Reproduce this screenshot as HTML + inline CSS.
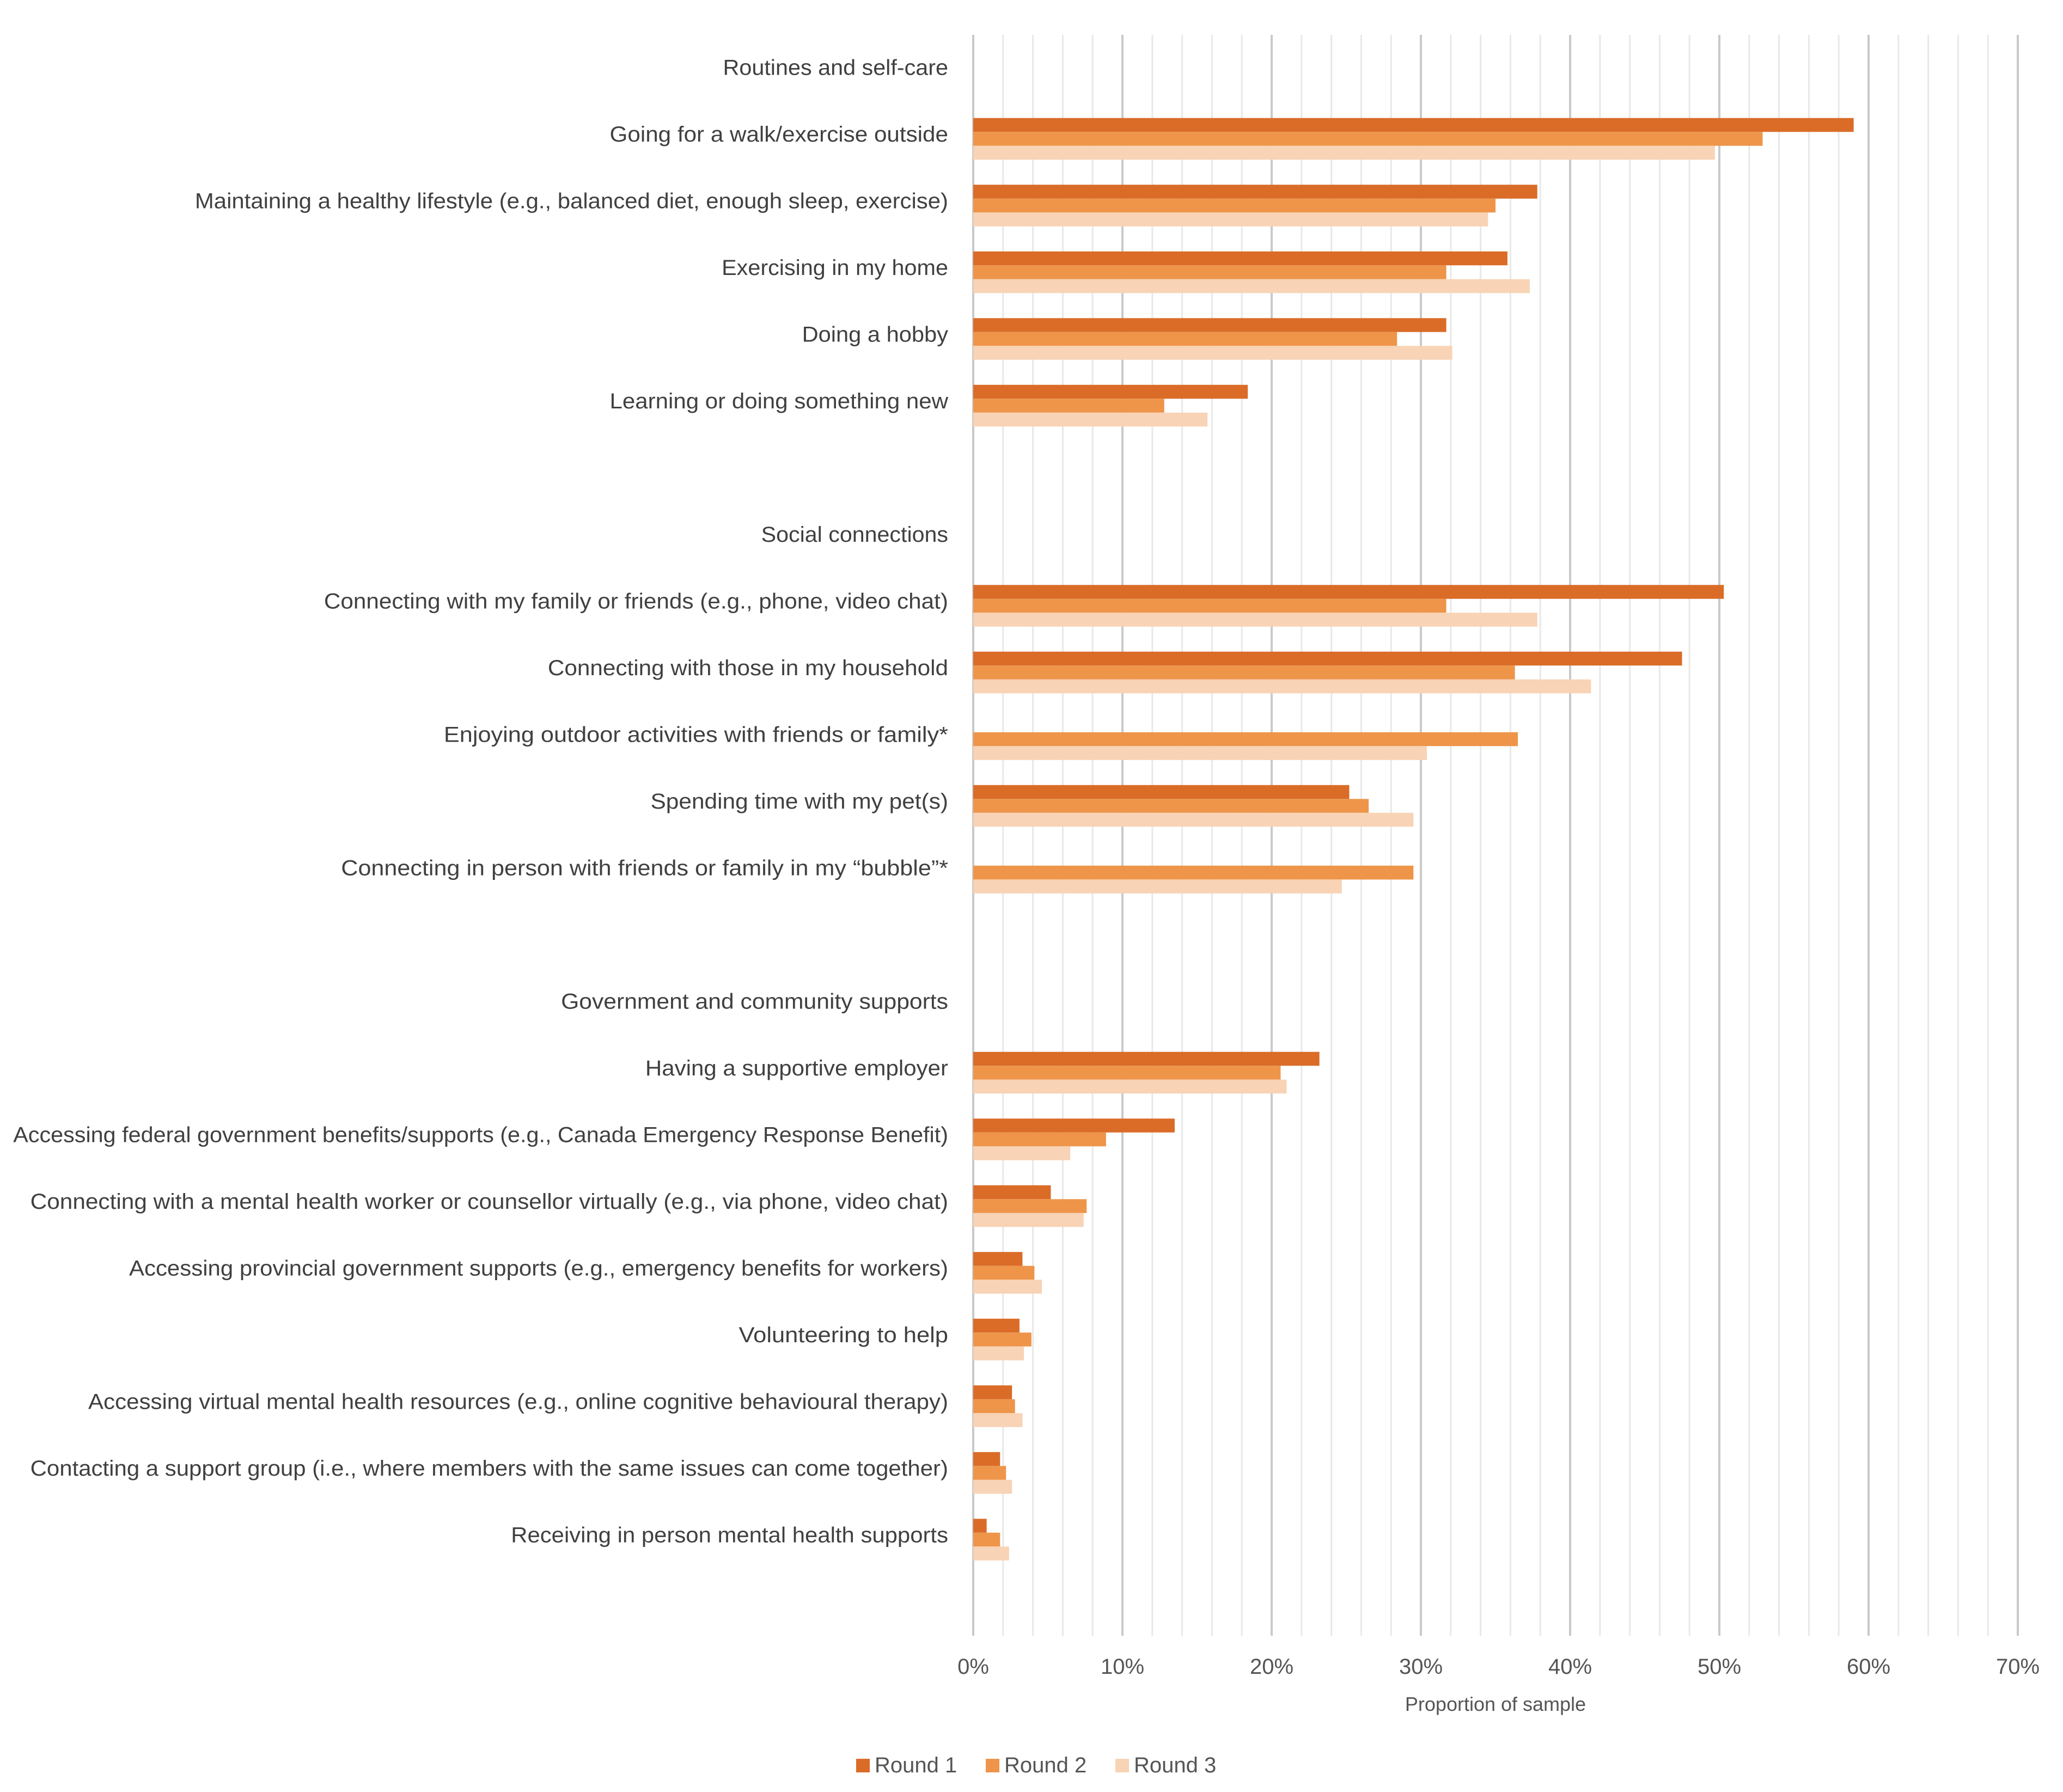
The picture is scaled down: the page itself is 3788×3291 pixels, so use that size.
<!DOCTYPE html>
<html><head><meta charset="utf-8"><style>
html,body{margin:0;padding:0;background:#fff;}
svg{display:block;font-family:"Liberation Sans",sans-serif;}
</style></head><body>
<svg id="chart" width="3788" height="3291" viewBox="0 0 3788 3291" xmlns="http://www.w3.org/2000/svg"></svg>
<script>
const categories=["Routines and self-care","Going for a walk/exercise outside","Maintaining a healthy lifestyle (e.g., balanced diet, enough sleep, exercise)","Exercising in my home","Doing a hobby","Learning or doing something new","","Social connections","Connecting with my family or friends (e.g., phone, video chat)","Connecting with those in my household","Enjoying outdoor activities with friends or family*","Spending time with my pet(s)","Connecting in person with friends or family in my \u201cbubble\u201d*","","Government and community supports","Having a supportive employer","Accessing federal government benefits/supports (e.g., Canada Emergency Response Benefit)","Connecting with a mental health worker or counsellor virtually (e.g., via phone, video chat)","Accessing provincial government supports (e.g., emergency benefits for workers)","Volunteering to help","Accessing virtual mental health resources (e.g., online cognitive behavioural therapy)","Contacting a support group (i.e., where members with the same issues can come together)","Receiving in person mental health supports",""];
const round1=[null,59.0,37.8,35.8,31.7,18.4,null,null,50.3,47.5,null,25.2,null,null,null,23.2,13.5,5.2,3.3,3.1,2.6,1.8,0.9,null];
const round2=[null,52.9,35.0,31.7,28.4,12.8,null,null,31.7,36.3,36.5,26.5,29.5,null,null,20.6,8.9,7.6,4.1,3.9,2.8,2.2,1.8,null];
const round3=[null,49.7,34.5,37.3,32.1,15.7,null,null,37.8,41.4,30.4,29.5,24.7,null,null,21.0,6.5,7.4,4.6,3.4,3.3,2.6,2.4,null];
const labelStarts=[549,463,148,548,609,463,0,578,246,416,337,494,259,0,426,490,10,23,98,561,67,23,388,0];
const tickLabels=["0%","10%","20%","30%","40%","50%","60%","70%"];
const seriesNames=["Round 1","Round 2","Round 3"];

const NS="http://www.w3.org/2000/svg";
const svg=document.getElementById('chart');
const X0=1787,X1=3705,XMAX=70,TOP=64,BAND=122.5;
const x=v=>X0+(X1-X0)*v/XMAX;
const yc=i=>TOP+BAND*(i+0.5);
const colors=["#DA6C28","#EE954A","#F8D3B5"];
function mk(tag,attrs){const e=document.createElementNS(NS,tag);for(const k in attrs)e.setAttribute(k,attrs[k]);svg.appendChild(e);return e;}
const bottom=TOP+BAND*categories.length;
for(let v=0;v<=XMAX;v+=2){
  const major=v%10===0;
  const l=mk('line',{x1:x(v),x2:x(v),y1:TOP,y2:bottom,stroke:major?'#c9c9c9':'#e8e8e8','stroke-width':major?4:3});
  
  
}
const series=[round1,round2,round3];
const BH=25.5;
series.forEach((s,si)=>{
  s.forEach((v,i)=>{
    if(v===null)return;
    const r=mk('rect',{x:x(0),y:yc(i)-31+si*BH,width:x(v)-x(0),height:BH,fill:colors[si]});
    
    
  });
});
categories.forEach((c,i)=>{
  if(!c)return;
  const t=mk('text',{x:1741,y:yc(i)+12,'text-anchor':'end','font-size':40,fill:'#404040',textLength:(720-labelStarts[i])*2.418,lengthAdjust:'spacingAndGlyphs'});
  t.textContent=c;
  
  
});
tickLabels.forEach((tl,k)=>{
  const t=mk('text',{x:x(k*10),y:3074,'text-anchor':'middle','font-size':40,fill:'#555'});
  t.textContent=tl;
  
  
});
const at=mk('text',{x:x(35),y:3142,'text-anchor':'middle','font-size':36,fill:'#555'});
at.textContent="Proportion of sample";


const lx=[1572,1810,2048];
seriesNames.forEach((n,si)=>{
  const r=mk('rect',{x:lx[si],y:3230,width:25,height:25,fill:colors[si]});
  
  
  const t=mk('text',{x:lx[si]+34,y:3255,'font-size':40,fill:'#555'});
  t.textContent=n;
  
  
});
</script>
</body></html>
